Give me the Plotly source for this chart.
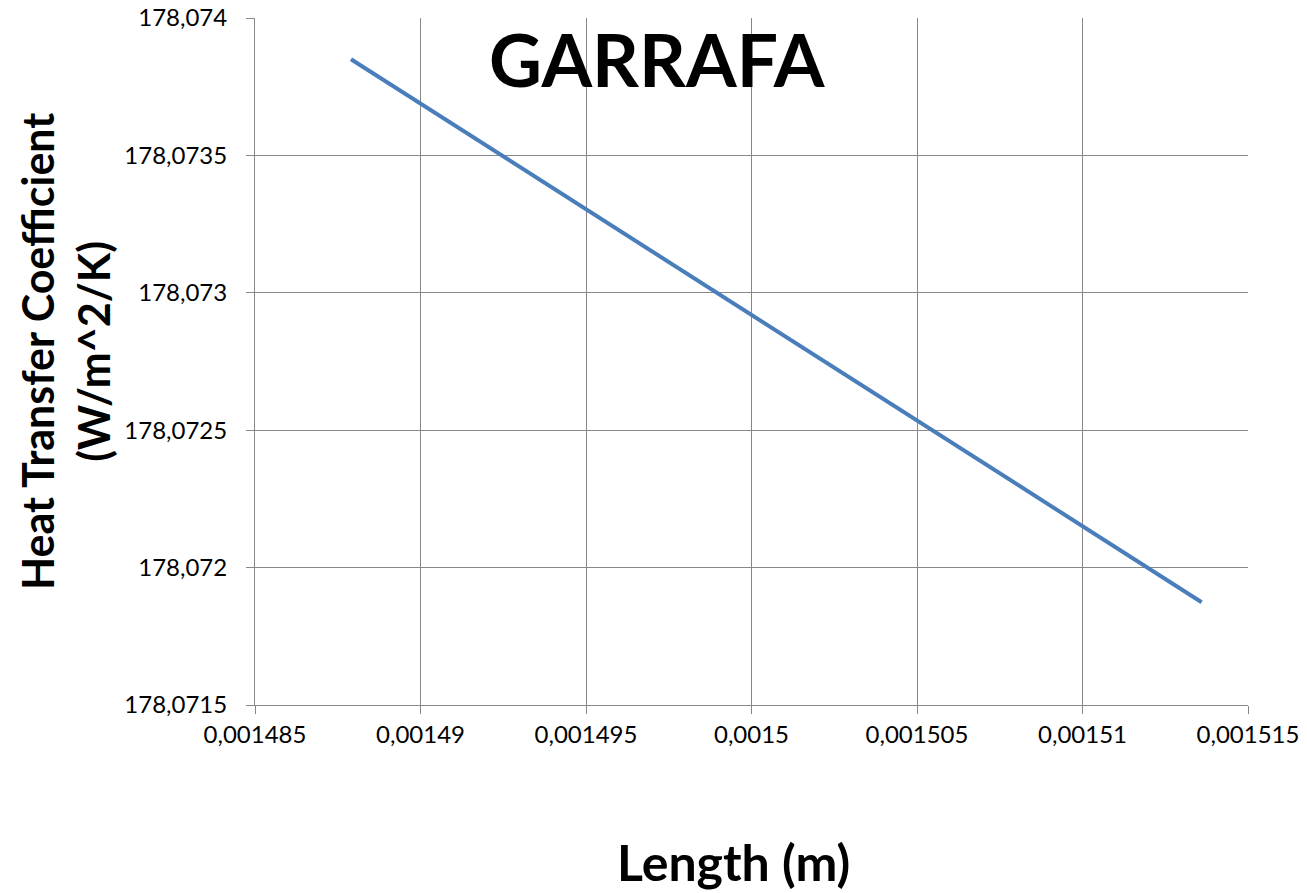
import plotly.graph_objects as go

length_m = [0.0014879, 0.0015, 0.0015136]
htc = [178.07385, 178.07292, 178.071874]

x_tickvals = [0.001485, 0.00149, 0.001495, 0.0015, 0.001505, 0.00151, 0.001515]
x_ticktext = ["0,001485", "0,00149", "0,001495", "0,0015", "0,001505", "0,00151", "0,001515"]
y_tickvals = [178.0715, 178.072, 178.0725, 178.073, 178.0735, 178.074]
y_ticktext = ["178,0715", "178,072", "178,0725", "178,073", "178,0735", "178,074"]

W, H = 1307, 893
L, T, R, B = 255, 18, 59, 188
pw, ph = W - L - R, H - T - B

def px(xp):
    return (xp - L) / pw

def py(yp):
    return (H - B - yp) / ph

fig = go.Figure()
fig.add_trace(go.Scatter(x=length_m, y=htc, mode="lines",
                         line=dict(color="#4A7EBB", width=4), showlegend=False))

axis_common = dict(showgrid=True, gridcolor="#888888", gridwidth=1,
                   showline=True, linecolor="#888888", linewidth=1,
                   ticks="outside", ticklen=8, tickcolor="#888888",
                   zeroline=False, tickfont=dict(family="Lato", size=24, color="#000000"))

fig.update_xaxes(range=[0.001485, 0.001515], tickvals=x_tickvals, ticktext=x_ticktext,
                 **axis_common)
fig.update_yaxes(range=[178.0715, 178.074], tickvals=y_tickvals, ticktext=y_ticktext,
                 ticklabelstandoff=14, **axis_common)

fig.add_annotation(text="<b>GARRAFA</b>", xref="paper", yref="paper",
                   x=px(657), y=py(59), xanchor="center", yanchor="middle",
                   showarrow=False, font=dict(family="Lato", size=73, color="#000000"))
fig.add_annotation(text="<b>Heat Transfer Coefficient<br>(W/m^2/K)</b>", xref="paper", yref="paper",
                   x=px(66), y=py(352), xanchor="center", yanchor="middle", textangle=-90,
                   showarrow=False, font=dict(family="Lato", size=43, color="#000000"))
fig.add_annotation(text="<b>Length (m)</b>", xref="paper", yref="paper",
                   x=px(733), y=py(862), xanchor="center", yanchor="middle",
                   showarrow=False, font=dict(family="Lato", size=50, color="#000000"))

fig.update_layout(width=W, height=H, margin=dict(l=L, r=R, t=T, b=B, autoexpand=False),
                  plot_bgcolor="white", paper_bgcolor="white")

fig.write_html("out.html", config={"displayModeBar": False},
               post_script="document.body.style.margin='0px';")
